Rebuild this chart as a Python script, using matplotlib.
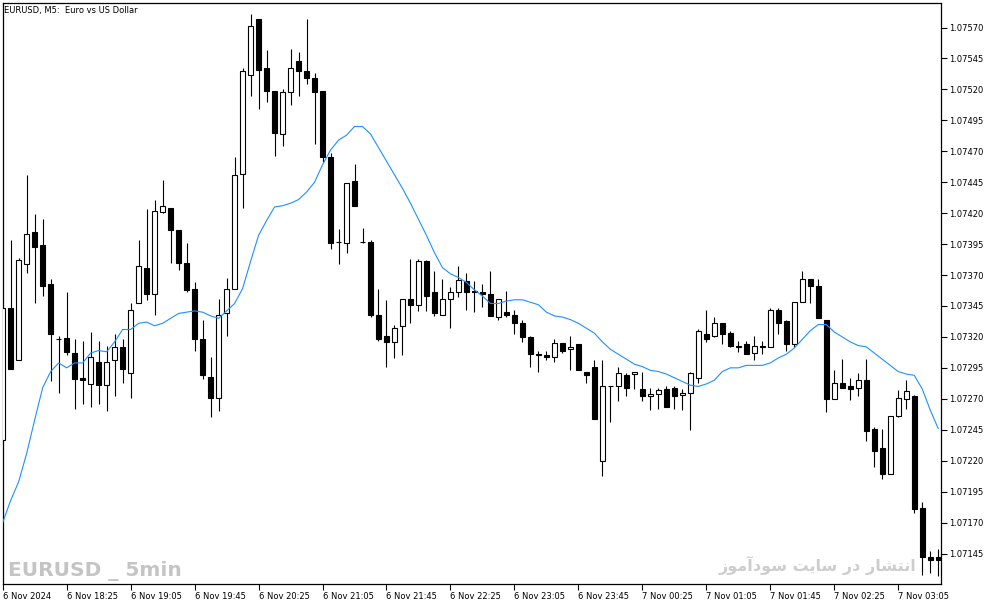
import matplotlib
matplotlib.use("Agg")
import matplotlib.pyplot as plt
import numpy as np

# EURUSD M5 candles, 6 Nov 2024 17:45 -> 7 Nov 2024 03:30
opens = [1.07237, 1.07343, 1.07301, 1.07379, 1.07405, 1.07394, 1.07363, 1.07318, 1.07319, 1.07307,
         1.07287, 1.07282, 1.07300, 1.07281, 1.07301, 1.07312, 1.07291, 1.07347, 1.07376, 1.07355,
         1.07421, 1.07424, 1.07406, 1.07380, 1.07359, 1.07318, 1.07288, 1.07271, 1.07339, 1.07359,
         1.07452, 1.07532, 1.07577, 1.07537, 1.07519, 1.07484, 1.07518, 1.07543, 1.07535, 1.07529,
         1.07519, 1.07465, 1.07397, 1.07396, 1.07446, 1.07397, 1.07397, 1.07338, 1.07321, 1.07316,
         1.07329, 1.07351, 1.07346, 1.07381, 1.07356, 1.07338, 1.07351, 1.07356, 1.07365, 1.07357,
         1.07356, 1.07355, 1.07336, 1.07340, 1.07338, 1.07331, 1.07320, 1.07306, 1.07305, 1.07304,
         1.07315, 1.07310, 1.07314, 1.07292, 1.07296, 1.07220, 1.07280, 1.07280, 1.07289, 1.07290,
         1.07278, 1.07272, 1.07274, 1.07278, 1.07279, 1.07273, 1.07275, 1.07287, 1.07322, 1.07321,
         1.07331, 1.07323, 1.07313, 1.07314, 1.07307, 1.07313, 1.07312, 1.07342, 1.07333, 1.07314,
         1.07348, 1.07367, 1.07361, 1.07334, 1.07270, 1.07283, 1.07280, 1.07279, 1.07285, 1.07246,
         1.07230, 1.07209, 1.07256, 1.07270, 1.07272, 1.07182, 1.07142, 1.07142]
highs = [1.07343, 1.07398, 1.07384, 1.07451, 1.07419, 1.07415, 1.07367, 1.07321, 1.07356, 1.07318,
         1.07317, 1.07324, 1.07317, 1.07313, 1.07322, 1.07318, 1.07347, 1.07398, 1.07423, 1.07431,
         1.07447, 1.07424, 1.07406, 1.07396, 1.07364, 1.07334, 1.07304, 1.07351, 1.07368, 1.07465,
         1.07537, 1.07581, 1.07577, 1.07552, 1.07519, 1.07520, 1.07553, 1.07550, 1.07577, 1.07533,
         1.07519, 1.07469, 1.07407, 1.07444, 1.07460, 1.07408, 1.07398, 1.07359, 1.07350, 1.07330,
         1.07351, 1.07383, 1.07383, 1.07382, 1.07373, 1.07367, 1.07360, 1.07377, 1.07372, 1.07365,
         1.07363, 1.07373, 1.07351, 1.07357, 1.07342, 1.07334, 1.07321, 1.07309, 1.07309, 1.07318,
         1.07315, 1.07321, 1.07314, 1.07292, 1.07301, 1.07301, 1.07280, 1.07296, 1.07291, 1.07292,
         1.07292, 1.07279, 1.07279, 1.07280, 1.07280, 1.07278, 1.07292, 1.07326, 1.07342, 1.07336,
         1.07331, 1.07325, 1.07317, 1.07317, 1.07321, 1.07317, 1.07343, 1.07343, 1.07334, 1.07348,
         1.07373, 1.07367, 1.07367, 1.07334, 1.07293, 1.07302, 1.07287, 1.07291, 1.07302, 1.07247,
         1.07246, 1.07256, 1.07277, 1.07285, 1.07273, 1.07187, 1.07147, 1.07149]
lows = [1.07237, 1.07294, 1.07301, 1.07372, 1.07347, 1.07353, 1.07284, 1.07275, 1.07305, 1.07262,
        1.07266, 1.07263, 1.07266, 1.07260, 1.07272, 1.07283, 1.07271, 1.07347, 1.07350, 1.07338,
        1.07420, 1.07380, 1.07374, 1.07356, 1.07309, 1.07286, 1.07255, 1.07260, 1.07321, 1.07359,
        1.07424, 1.07515, 1.07504, 1.07510, 1.07466, 1.07474, 1.07507, 1.07515, 1.07524, 1.07476,
        1.07461, 1.07391, 1.07379, 1.07388, 1.07426, 1.07396, 1.07336, 1.07317, 1.07296, 1.07303,
        1.07305, 1.07331, 1.07341, 1.07341, 1.07337, 1.07338, 1.07327, 1.07352, 1.07342, 1.07340,
        1.07344, 1.07337, 1.07334, 1.07336, 1.07322, 1.07316, 1.07296, 1.07292, 1.07301, 1.07300,
        1.07307, 1.07293, 1.07293, 1.07283, 1.07254, 1.07208, 1.07251, 1.07268, 1.07272, 1.07278,
        1.07268, 1.07261, 1.07262, 1.07263, 1.07262, 1.07261, 1.07245, 1.07283, 1.07316, 1.07320,
        1.07314, 1.07312, 1.07308, 1.07306, 1.07301, 1.07306, 1.07312, 1.07322, 1.07309, 1.07312,
        1.07348, 1.07347, 1.07335, 1.07259, 1.07270, 1.07279, 1.07269, 1.07272, 1.07236, 1.07215,
        1.07205, 1.07209, 1.07255, 1.07262, 1.07178, 1.07128, 1.07129, 1.07127]
closes = [1.07343, 1.07294, 1.07382, 1.07403, 1.07393, 1.07361, 1.07322, 1.07318, 1.07308, 1.07286,
          1.07285, 1.07304, 1.07281, 1.07300, 1.07312, 1.07294, 1.07342, 1.07377, 1.07355, 1.07422,
          1.07426, 1.07406, 1.07380, 1.07358, 1.07318, 1.07289, 1.07271, 1.07338, 1.07359, 1.07451,
          1.07535, 1.07571, 1.07536, 1.07519, 1.07485, 1.07518, 1.07537, 1.07535, 1.07529, 1.07518,
          1.07465, 1.07396, 1.07397, 1.07444, 1.07426, 1.07397, 1.07338, 1.07318, 1.07316, 1.07327,
          1.07351, 1.07346, 1.07381, 1.07353, 1.07339, 1.07351, 1.07356, 1.07366, 1.07356, 1.07356,
          1.07355, 1.07337, 1.07351, 1.07338, 1.07331, 1.07320, 1.07306, 1.07305, 1.07304, 1.07315,
          1.07309, 1.07312, 1.07293, 1.07289, 1.07254, 1.07280, 1.07280, 1.07291, 1.07279, 1.07292,
          1.07272, 1.07274, 1.07277, 1.07263, 1.07272, 1.07275, 1.07291, 1.07325, 1.07318, 1.07331,
          1.07322, 1.07313, 1.07312, 1.07306, 1.07313, 1.07312, 1.07342, 1.07331, 1.07314, 1.07348,
          1.07367, 1.07361, 1.07335, 1.07270, 1.07283, 1.07279, 1.07278, 1.07285, 1.07244, 1.07228,
          1.07209, 1.07256, 1.07271, 1.07276, 1.07181, 1.07142, 1.07140, 1.07140]
# moving average line (blue), one value per candle
ma = [1.07170, 1.07188, 1.07203, 1.07226, 1.07253, 1.07279, 1.07292, 1.07299, 1.07295, 1.07299,
      1.07299, 1.07307, 1.07309, 1.07308, 1.07316, 1.07326, 1.07326, 1.07331, 1.07332, 1.07329,
      1.07331, 1.07335, 1.07339, 1.07340, 1.07341, 1.07340, 1.07337, 1.07335, 1.07341, 1.07347,
      1.07359, 1.07381, 1.07402, 1.07414, 1.07425, 1.07426, 1.07428, 1.07431, 1.07437, 1.07445,
      1.07459, 1.07471, 1.07479, 1.07483, 1.07490, 1.07490, 1.07484, 1.07473, 1.07462, 1.07451,
      1.07440, 1.07428, 1.07415, 1.07402, 1.07388, 1.07376, 1.07371, 1.07368, 1.07364, 1.07358,
      1.07353, 1.07347, 1.07347, 1.07349, 1.07350, 1.07350, 1.07348, 1.07346, 1.07340, 1.07337,
      1.07336, 1.07334, 1.07331, 1.07327, 1.07323, 1.07316, 1.07310, 1.07306, 1.07302, 1.07298,
      1.07296, 1.07293, 1.07292, 1.07290, 1.07287, 1.07284, 1.07281, 1.07280, 1.07282, 1.07285,
      1.07292, 1.07295, 1.07295, 1.07297, 1.07297, 1.07297, 1.07299, 1.07303, 1.07306, 1.07311,
      1.07318, 1.07325, 1.07330, 1.07330, 1.07324, 1.07320, 1.07316, 1.07313, 1.07312, 1.07307,
      1.07302, 1.07297, 1.07292, 1.07290, 1.07289, 1.07278, 1.07261, 1.07246]

x_labels = ["6 Nov 2024", "6 Nov 18:25", "6 Nov 19:05", "6 Nov 19:45", "6 Nov 20:25",
            "6 Nov 21:05", "6 Nov 21:45", "6 Nov 22:25", "6 Nov 23:05", "6 Nov 23:45",
            "7 Nov 00:25", "7 Nov 01:05", "7 Nov 01:45", "7 Nov 02:25", "7 Nov 03:05"]
y_ticks = [1.07145, 1.07170, 1.07195, 1.07220, 1.07245, 1.07270, 1.07295, 1.07320, 1.07345,
           1.07370, 1.07395, 1.07420, 1.07445, 1.07470, 1.07495, 1.07520, 1.07545, 1.07570]

title = "EURUSD, M5:  Euro vs US Dollar"
mark_left = "EURUSD _ 5min"
mark_right = "انتشار در سایت سودآموز"

# contextual forms so the Persian watermark joins like it should
FORMS = {
    "ا": ("\uFE8D", "\uFE8E", None, None),
    "آ": ("\uFE81", "\uFE82", None, None),
    "ن": ("\uFEE5", "\uFEE6", "\uFEE7", "\uFEE8"),
    "ت": ("\uFE95", "\uFE96", "\uFE97", "\uFE98"),
    "ش": ("\uFEB5", "\uFEB6", "\uFEB7", "\uFEB8"),
    "ر": ("\uFEAD", "\uFEAE", None, None),
    "د": ("\uFEA9", "\uFEAA", None, None),
    "س": ("\uFEB1", "\uFEB2", "\uFEB3", "\uFEB4"),
    "ی": ("\uFBFC", "\uFBFD", "\uFBFE", "\uFBFF"),
    "م": ("\uFEE1", "\uFEE2", "\uFEE3", "\uFEE4"),
    "و": ("\uFEED", "\uFEEE", None, None),
    "ز": ("\uFEAF", "\uFEB0", None, None),
}


def shape_fa(text):
    words = []
    for word in text.split(" "):
        res = []
        for k, ch in enumerate(word):
            iso, fin, ini, med = FORMS[ch]
            join_prev = k > 0 and FORMS[word[k - 1]][2] is not None
            join_next = ini is not None and k < len(word) - 1
            if join_prev and join_next:
                res.append(med)
            elif join_prev:
                res.append(fin)
            elif join_next:
                res.append(ini)
            else:
                res.append(iso)
        words.append("".join(res))
    return " ".join(words)[::-1]


W, H = 994, 605
fig = plt.figure(figsize=(W / 100, H / 100), dpi=100)
ax = fig.add_axes([2.7 / W, 1 - 584 / H, (941 - 2.7) / W, (584 - 2.7) / H])

idx = np.arange(len(opens))
o = np.array(opens)
c = np.array(closes)
up = c > o

# watermarks sit behind the candles
fig.text(8 / W, 1 - 576 / H, mark_left, fontsize=14.5, fontweight="bold",
         color="#c4c4c4", family="DejaVu Sans", va="baseline", ha="left", zorder=0)
fig.text(916 / W, 1 - 571 / H, shape_fa(mark_right), fontsize=11.5, fontweight="bold",
         color="#cdcdcd", family="DejaVu Sans", va="baseline", ha="right", zorder=0)
ax.patch.set_alpha(0)

ax.vlines(idx, lows, highs, color="black", linewidth=0.8, zorder=2)
body_lo = np.minimum(o, c)
body_h = np.abs(c - o)
ax.bar(idx, body_h, bottom=body_lo, width=0.62,
       color=np.where(up, "white", "black"), edgecolor="black", linewidth=0.8, zorder=3)

ax.plot(idx, ma, color="#1E90FF", linewidth=0.8, zorder=4)

ax.set_xlim(0, 117.35)
ax.set_ylim(1.0712036, 1.0759004)

ax.set_xticks(np.arange(0, len(opens), 8)[:len(x_labels)])
ax.set_xticklabels(x_labels, ha="left", fontsize=6)
ax.yaxis.tick_right()
ax.set_yticks(y_ticks)
ax.set_yticklabels([f"{v:.5f}" for v in y_ticks], fontsize=6)
ax.tick_params(axis="both", direction="out", length=4, width=0.8, pad=1.5, colors="black")
for sp in ax.spines.values():
    sp.set_linewidth(0.9)
    sp.set_color("black")

fig.text(4 / W, 1 - 11 / H, title, fontsize=6, va="center", ha="left")

fig.savefig("out.png", dpi=100)
